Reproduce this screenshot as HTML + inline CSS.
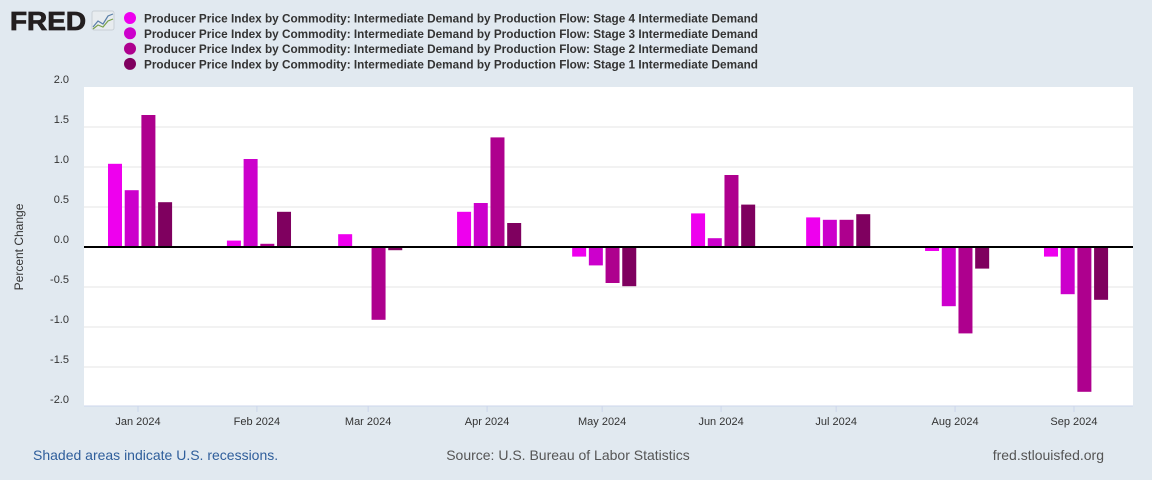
<!DOCTYPE html>
<html><head><meta charset="utf-8"><style>
body{margin:0;background:#e1e9f0;font-family:"Liberation Sans",sans-serif;}
#wrap{position:relative;width:1152px;height:480px;overflow:hidden;}
</style></head><body>
<div id="wrap">
<svg id="svg" width="1152" height="480" xmlns="http://www.w3.org/2000/svg">
  <g>
    <text x="10" y="30" font-family="Liberation Sans" font-weight="bold" font-size="26" fill="#231f20" textLength="76" lengthAdjust="spacingAndGlyphs" stroke="#231f20" stroke-width="0.8">FRED</text>
    <rect x="92" y="11" width="22" height="19" rx="2" fill="#e8ecef" stroke="#c9d0d6"/>
    <polyline points="93,27 98,21 103,24 108,16 113,14" fill="none" stroke="#5a7fa8" stroke-width="1.2"/>
    <polyline points="93,29 98,25 103,27 108,21 113,19" fill="none" stroke="#7aa14a" stroke-width="1.2"/>
  </g>
  <g id="legend"></g>
  <rect x="84" y="87" width="1049" height="319" fill="#fff"/>
  <g id="grid"></g>
  <g id="bars"></g>
  <g id="axes"></g>
  <text x="23" y="247" transform="rotate(-90 23 247)" text-anchor="middle" font-size="12" fill="#333">Percent Change</text>
  <text x="33" y="460" font-size="14" fill="#2f5e9b">Shaded areas indicate U.S. recessions.</text>
  <text x="568" y="460" font-size="14" fill="#555" text-anchor="middle">Source: U.S. Bureau of Labor Statistics</text>
  <text x="1104" y="460" font-size="14" fill="#555" text-anchor="end">fred.stlouisfed.org</text>
</svg>
</div>
<script>
const categories = ["Jan 2024","Feb 2024","Mar 2024","Apr 2024","May 2024","Jun 2024","Jul 2024","Aug 2024","Sep 2024"];
const monthDayOffsets = [0,31,60,91,121,152,182,213,244];
const stage4 = [1.04,0.08,0.16,0.44,-0.12,0.42,0.37,-0.05,-0.12];
const stage3 = [0.71,1.10,0.00,0.55,-0.23,0.11,0.34,-0.74,-0.59];
const stage2 = [1.65,0.04,-0.91,1.37,-0.45,0.90,0.34,-1.08,-1.81];
const stage1 = [0.56,0.44,-0.04,0.30,-0.49,0.53,0.41,-0.27,-0.66];
const yTicks = [2.0,1.5,1.0,0.5,0.0,-0.5,-1.0,-1.5,-2.0];
const seriesNames = ["Stage 4","Stage 3","Stage 2","Stage 1"];
const seriesColors = ["#ee00ee","#cc00cc","#ae008e","#7f005f"];
const NS="http://www.w3.org/2000/svg";
function y(v){return 247-v*80;}
function x(d){return 138+d*3.836;}
function mk(tag,attrs,parent){const e=document.createElementNS(NS,tag);for(const k in attrs)e.setAttribute(k,attrs[k]);parent.appendChild(e);return e;}
const grid=document.getElementById('grid'),bars=document.getElementById('bars'),axes=document.getElementById('axes'),legend=document.getElementById('legend');
yTicks.forEach(t=>{
  if(t!==0&&t!==2&&t!==-2){const l=mk('line',{x1:84,x2:1133,y1:y(t),y2:y(t),stroke:'#e6e6e6','stroke-width':1},grid);
  
  }
  const tx=mk('text',{x:69,y:y(t)-4,'text-anchor':'end','font-size':11,fill:'#333'},axes);
  tx.textContent=t.toFixed(1);
  
  
});
mk('line',{x1:84,x2:1133,y1:406,y2:406,stroke:'#ccd6eb','stroke-width':1},axes);
const all=[stage4,stage3,stage2,stage1];
categories.forEach((c,i)=>{
  const cx=x(monthDayOffsets[i]);
  const tk=mk('line',{x1:cx,x2:cx,y1:406,y2:412,stroke:'#ccd6eb'},axes);
  
  
  const tl=mk('text',{x:cx,y:425,'text-anchor':'middle','font-size':11,fill:'#333'},axes);
  tl.textContent=c;
  
  
  all.forEach((s,j)=>{
    const v=s[i];const bx=cx-30+j*16.7;
    const top=Math.min(y(v),y(0)),h=Math.abs(y(v)-y(0));
    const r=mk('rect',{x:bx,y:top,width:14,height:h,fill:seriesColors[j]},bars);
    
    
  });
});
const z=mk('line',{x1:84,x2:1133,y1:y(0),y2:y(0),stroke:'#000','stroke-width':2},axes);


seriesNames.forEach((n,j)=>{
  const yy=19+j*15.3;
  const g=mk('g',{},legend);
  
  
  mk('circle',{cx:130,cy:yy-1,r:6,fill:seriesColors[j]},g);
  const t=mk('text',{x:144,y:yy+3.5,'font-size':12,'font-weight':'bold',fill:'#333',textLength:614,lengthAdjust:'spacingAndGlyphs'},g);
  t.textContent='Producer Price Index by Commodity: Intermediate Demand by Production Flow: '+n+' Intermediate Demand';
});
</script>
</body></html>
